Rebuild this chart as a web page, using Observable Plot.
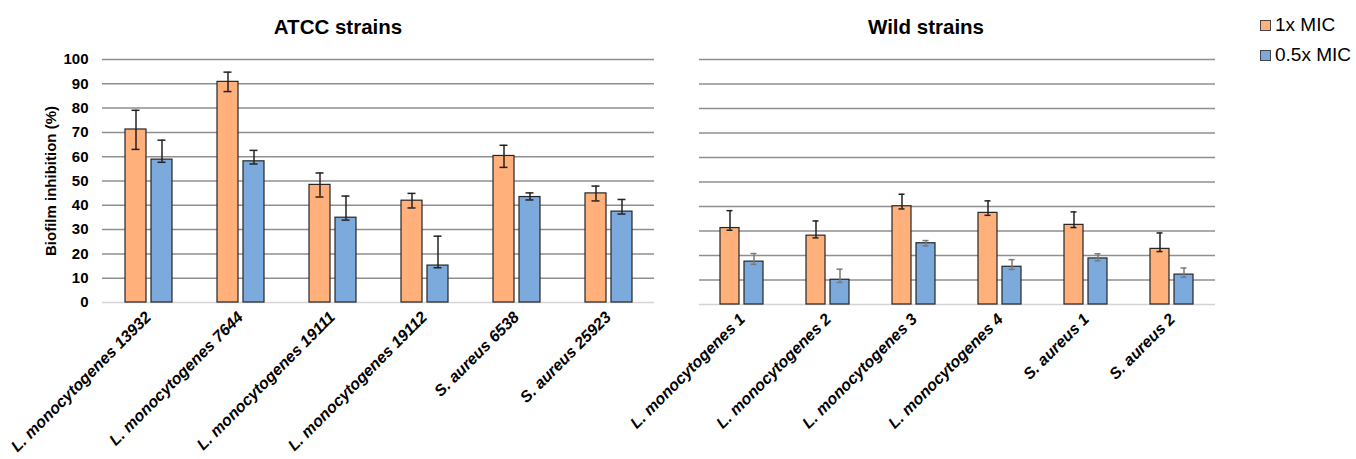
<!DOCTYPE html>
<html>
<head>
<meta charset="utf-8">
<script src="https://cdn.jsdelivr.net/npm/d3@7"></script>
<script src="https://cdn.jsdelivr.net/npm/@observablehq/plot@0.6"></script>
<style>
  body { margin: 0; background: white; font-family: "Liberation Sans", Arial, sans-serif; }
  #wrap { position: relative; width: 1356px; height: 459px; overflow: hidden; }
  #wrap svg { position: absolute; top: 0; overflow: visible; }
  .title { position: absolute; top: 16px; font-size: 20.5px; font-weight: bold; line-height: 22px; transform: translateX(-50%); white-space: nowrap; color: #000; }
  .legend { position: absolute; left: 1260px; top: 10px; font-size: 19px; line-height: 30px; color: #000; white-space: nowrap; }
  .legend div { display: flex; align-items: center; }
  .legend span.sw { display: inline-block; width: 9px; height: 9px; border: 1px solid #444; margin-right: 4px; }
</style>
</head>
<body>
<div id="wrap">
  <div class="title" style="left:338px">ATCC strains</div>
  <div class="title" style="left:926px">Wild strains</div>
  <div class="legend">
    <div><span class="sw" style="background:#FFB07B"></span>1x MIC</div>
    <div><span class="sw" style="background:#7DAADD"></span>0.5x MIC</div>
  </div>
</div>
<script>
const doses = ["1x MIC", "0.5x MIC"];
const doseColors = ["#FFB07B", "#7DAADD"];
const yTicks = [0, 10, 20, 30, 40, 50, 60, 70, 80, 90, 100];

const atccStrains = ["L. monocytogenes 13932", "L. monocytogenes 7644", "L. monocytogenes 19111", "L. monocytogenes 19112", "S. aureus 6538", "S. aureus 25923"];
const atcc1x   = [71.2, 90.8, 48.4, 41.9, 60.3, 44.9];
const atcc1xHi = [79.1, 94.8, 53.3, 44.9, 64.7, 47.9];
const atcc1xLo = [63.0, 86.8, 43.4, 38.9, 55.6, 41.8];
const atcc05   = [58.8, 58.1, 34.9, 15.2, 43.4, 37.4];
const atcc05Hi = [66.8, 62.6, 43.8, 27.3, 45.1, 42.4];
const atcc05Lo = [57.7, 57.0, 33.9, 14.3, 42.2, 36.4];

const wildStrains = ["L. monocytogenes 1", "L. monocytogenes 2", "L. monocytogenes 3", "L. monocytogenes 4", "S. aureus 1", "S. aureus 2"];
const wild1x   = [31.2, 28.1, 40.1, 37.4, 32.5, 22.7];
const wild1xHi = [38.3, 34.1, 45.0, 42.3, 37.8, 29.2];
const wild1xLo = [30.3, 27.2, 39.0, 36.4, 31.4, 21.6];
const wild05   = [17.5, 10.1, 25.0, 15.4, 18.8, 12.2];
const wild05Hi = [20.8, 14.4, 26.1, 18.3, 20.7, 14.9];
const wild05Lo = [16.4,  9.0, 23.9, 14.3, 17.8, 11.1];

function rows(strains, v1, h1, l1, v2, h2, l2) {
  const out = [];
  strains.forEach((s, i) => {
    out.push({strain: s, dose: doses[0], v: v1[i], hi: h1[i], lo: l1[i]});
    out.push({strain: s, dose: doses[1], v: v2[i], hi: h2[i], lo: l2[i]});
  });
  return out;
}

function panel({strains, data, left, width, marginLeft, marginRight, marginBottom, showY, err05}) {
  const errMarks = (filter, color) => [
    Plot.ruleX(data, {filter, fx: "strain", x: "dose", y1: "lo", y2: "hi", stroke: color, strokeWidth: 1.5}),
    Plot.tickY(data, {filter, fx: "strain", x: "dose", y: "hi", stroke: color, strokeWidth: 1.5, insetLeft: 6.5, insetRight: 6.5}),
    Plot.tickY(data, {filter, fx: "strain", x: "dose", y: "lo", stroke: color, strokeWidth: 1.5, insetLeft: 6.5, insetRight: 6.5})
  ];
  const svg = Plot.plot({
    width, height: 459,
    marginLeft, marginRight, marginTop: 59, marginBottom,
    style: {fontFamily: "Liberation Sans, Arial, sans-serif", background: "transparent", overflow: "visible"},
    fx: {domain: strains, padding: 0, label: null},
    x: {domain: doses, paddingInner: 0.204, paddingOuter: 0.871, axis: null},
    y: {domain: [0, 100], ...(showY ? {} : {axis: null})},
    color: {domain: doses, range: doseColors},
    marks: [
      Plot.ruleY(yTicks.filter(t => t > 0), {stroke: "#8f8f8f", strokeWidth: 1.5}),
      Plot.ruleY([0], {stroke: "#d4d4d4", strokeWidth: 1.5}),
      Plot.barY(data, {fx: "strain", x: "dose", y: "v", fill: "dose", stroke: "#262626", strokeWidth: 1.2}),
      ...errMarks(d => d.dose === doses[0], "#222"),
      ...errMarks(d => d.dose === doses[1], err05),
      Plot.axisFx({anchor: "bottom", label: null, tickRotate: -45, tickSize: 0, tickPadding: 12,
                   fontSize: 16, fontWeight: "bold", fontStyle: "italic", fill: "#000"}),
      showY ? Plot.axisY({ticks: yTicks, tickSize: 0, tickPadding: 14, fontSize: 15, fontWeight: "bold",
                          label: "Biofilm inhibition (%)", labelAnchor: "center", labelArrow: "none",
                          labelOffset: 57, fill: "#000"}) : null
    ]
  });
  svg.style.left = left + "px";
  document.getElementById("wrap").appendChild(svg);
}

panel({
  strains: atccStrains,
  data: rows(atccStrains, atcc1x, atcc1xHi, atcc1xLo, atcc05, atcc05Hi, atcc05Lo),
  left: 0, width: 660, marginLeft: 102, marginRight: 6, marginBottom: 157, showY: true, err05: "#222"
});
panel({
  strains: wildStrains,
  data: rows(wildStrains, wild1x, wild1xHi, wild1xLo, wild05, wild05Hi, wild05Lo),
  left: 660, width: 600, marginLeft: 36, marginRight: 43, marginBottom: 155, showY: false, err05: "#7a7a7a"
});
</script>
</body>
</html>
